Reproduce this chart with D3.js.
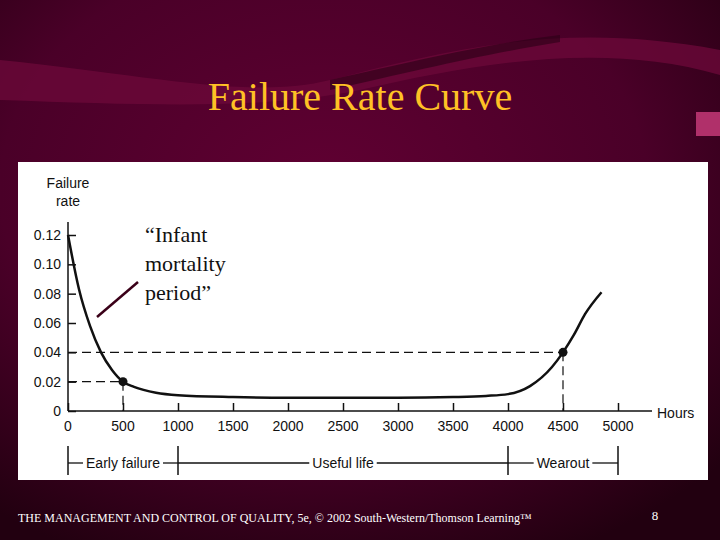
<!DOCTYPE html>
<html><head><meta charset="utf-8">
<script src="https://cdn.jsdelivr.net/npm/d3@7"></script>
<style>body{margin:0;background:#3a0020}svg{display:block}</style>
</head><body>
<script>
const hours = [0,100,200,300,400,500,600,800,1000,1500,2000,2500,3000,3500,3800,4000,4200,4400,4500,4600,4700,4850];
const rates = [0.12,0.083,0.058,0.04,0.028,0.02,0.0165,0.0125,0.0108,0.0095,0.009,0.009,0.009,0.0095,0.0103,0.0115,0.017,0.03,0.04,0.052,0.066,0.081];
const xTicks = [0,500,1000,1500,2000,2500,3000,3500,4000,4500,5000];
const yTicks = [0,0.02,0.04,0.06,0.08,0.10,0.12];
const yTickLabels = ["0","0.02","0.04","0.06","0.08","0.10","0.12"];
const markedPoints = [[500,0.02],[4500,0.04]];
const periods = [{name:"Early failure",from:0,to:1000},{name:"Useful life",from:1000,to:4000},{name:"Wearout",from:4000,to:5000}];

const W=720,H=540;
const svg=d3.select("body").append("svg").attr("width",W).attr("height",H);
const defs=svg.append("defs");
const g1=defs.append("radialGradient").attr("id","bg").attr("cx","45%").attr("cy","35%").attr("r","75%");
g1.append("stop").attr("offset","0%").attr("stop-color","#600032");
g1.append("stop").attr("offset","60%").attr("stop-color","#4a0028");
g1.append("stop").attr("offset","100%").attr("stop-color","#220010");
svg.append("rect").attr("width",W).attr("height",H).attr("fill","url(#bg)");
svg.append("path").attr("d","M0,60 C150,75 250,100 330,80 C450,50 560,20 720,50 L720,75 C600,40 470,65 360,90 C260,110 150,105 0,100 Z").attr("fill","#6a0838").attr("opacity",0.8);
svg.append("path").attr("d","M330,80 C420,60 480,45 560,35 L560,42 C480,55 420,70 330,90 Z").attr("fill","#2a0015").attr("opacity",0.6);
svg.append("rect").attr("x",696).attr("y",112).attr("width",24).attr("height",24).attr("fill","#b0306a");

svg.append("text").attr("x",360).attr("y",110).attr("text-anchor","middle")
  .attr("font-family","Liberation Serif").attr("font-size",40).attr("fill","#ffc125").text("Failure Rate Curve");

svg.append("rect").attr("x",18).attr("y",162).attr("width",690).attr("height",318).attr("fill","#fff");

const x=d3.scaleLinear().domain([0,5000]).range([68,618]);
const y=d3.scaleLinear().domain([0,0.12]).range([411,235]);
const font="Liberation Sans";

// axes
const ax=svg.append("g").attr("font-family",font).attr("font-size",14).attr("fill","#111");
ax.append("line").attr("x1",68).attr("x2",68).attr("y1",222).attr("y2",411).attr("stroke","#111").attr("stroke-width",1.5);
ax.append("line").attr("x1",68).attr("x2",652).attr("y1",411).attr("y2",411).attr("stroke","#111").attr("stroke-width",1.5);
const xAxis=svg.append("g").attr("transform","translate(0,411)")
  .call(d3.axisTop(x).tickValues(xTicks).tickSize(8).tickFormat(""));
xAxis.select(".domain").remove();
xAxis.selectAll("line").attr("stroke","#111").attr("stroke-width",1.5);
svg.append("g").selectAll("text").data(xTicks).join("text")
  .attr("x",d=>x(d)).attr("y",431).attr("text-anchor","middle")
  .attr("font-family",font).attr("font-size",14).attr("fill","#111").text(d=>d);
const yAxis=svg.append("g").attr("transform","translate(68,0)")
  .call(d3.axisRight(y).tickValues(yTicks).tickSize(8).tickFormat(""));
yAxis.select(".domain").remove();
yAxis.selectAll("line").attr("stroke","#111").attr("stroke-width",1.5);
svg.append("g").selectAll("text").data(yTicks).join("text")
  .attr("x",61).attr("y",d=>y(d)+5).attr("text-anchor","end")
  .attr("font-family",font).attr("font-size",14).attr("fill","#111").text((d,i)=>yTickLabels[i]);
ax.append("text").attr("x",68).attr("y",188).attr("text-anchor","middle").text("Failure");
ax.append("text").attr("x",68).attr("y",206).attr("text-anchor","middle").text("rate");
ax.append("text").attr("x",657).attr("y",418).text("Hours");

// dashed guides
markedPoints.forEach(([h,r])=>{
  svg.append("line").attr("x1",68).attr("x2",x(h)).attr("y1",y(r)).attr("y2",y(r)).attr("stroke","#111").attr("stroke-dasharray","9,5").attr("stroke-width",1.2);
  svg.append("line").attr("x1",x(h)).attr("x2",x(h)).attr("y1",y(r)).attr("y2",y(0)).attr("stroke","#111").attr("stroke-dasharray","9,5").attr("stroke-width",1.2);
});

// curve
svg.append("path").datum(hours.map((h,i)=>[h,rates[i]]))
  .attr("d",d3.line().x(d=>x(d[0])).y(d=>y(d[1])).curve(d3.curveMonotoneX))
  .attr("fill","none").attr("stroke","#111").attr("stroke-width",2.5);
svg.selectAll(".pt").data(markedPoints).join("circle")
  .attr("cx",d=>x(d[0])).attr("cy",d=>y(d[1])).attr("r",4.5).attr("fill","#111");

// annotation
svg.append("line").attr("x1",97).attr("y1",317).attr("x2",138).attr("y2",282).attr("stroke","#3a0018").attr("stroke-width",2.5);
["“Infant","mortality","period”"].forEach((t,i)=>svg.append("text").attr("x",145).attr("y",242+i*29)
  .attr("font-family","Liberation Serif").attr("font-size",22).attr("fill","#111").text(t));

// periods
const pg=svg.append("g");
const py=463;
[0,1000,4000,5000].forEach(v=>pg.append("line").attr("x1",x(v)).attr("x2",x(v)).attr("y1",446).attr("y2",475).attr("stroke","#111").attr("stroke-width",1.5));
periods.forEach(p=>{
  const cx=(x(p.from)+x(p.to))/2;
  const t=pg.append("text").attr("x",cx).attr("y",py+5).attr("text-anchor","middle")
    .attr("font-family",font).attr("font-size",14).attr("fill","#111").text(p.name);
  const w=t.node().getComputedTextLength()/2+3;
  pg.append("line").attr("x1",x(p.from)).attr("x2",cx-w).attr("y1",py).attr("y2",py).attr("stroke","#111").attr("stroke-width",1.3);
  pg.append("line").attr("x1",cx+w).attr("x2",x(p.to)).attr("y1",py).attr("y2",py).attr("stroke","#111").attr("stroke-width",1.3);
});

svg.append("text").attr("x",18).attr("y",522).attr("font-family","Liberation Serif").attr("font-size",12).attr("fill","#fff")
  .text("THE MANAGEMENT AND CONTROL OF QUALITY, 5e, © 2002 South-Western/Thomson Learning™");
svg.append("text").attr("x",655).attr("y",520).attr("text-anchor","middle").attr("font-family","Liberation Serif").attr("font-size",13).attr("fill","#fff").text("8");
</script>
</body></html>
